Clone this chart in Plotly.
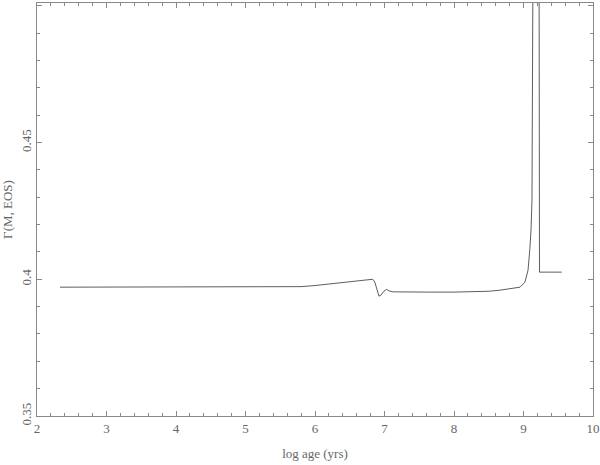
import plotly.graph_objects as go

log_age = [2.33, 3.0, 4.0, 5.0, 5.6, 5.8, 6.0, 6.2, 6.36, 6.5, 6.65, 6.79, 6.83, 6.86,
           6.89, 6.92, 6.95, 6.99, 7.03, 7.07, 7.12, 7.3, 7.6, 8.0, 8.3, 8.5, 8.66, 8.8,
           8.95, 9.02, 9.065, 9.09, 9.108, 9.122, 9.137, 9.145, 9.15,
           9.22, 9.222, 9.225, 9.228, 9.23, 9.4, 9.55]
gamma = [0.3971, 0.3971, 0.3971, 0.3971, 0.3971, 0.3973, 0.3977, 0.3982, 0.3988, 0.3992,
         0.3996, 0.3999, 0.4000, 0.3990, 0.3967, 0.3938, 0.3942, 0.3956, 0.3963, 0.3957,
         0.3954, 0.3953, 0.3953, 0.3953, 0.3954, 0.3956, 0.3960, 0.3964,
         0.3971, 0.3989, 0.4033, 0.4106, 0.4179, 0.4288, 0.4650, 0.5050, 0.6000,
         0.6000, 0.4210, 0.6000, 0.6000, 0.4026, 0.4026, 0.4026]

font = dict(family="Liberation Serif, DejaVu Serif, serif", size=13, color="#666666")

fig = go.Figure()
fig.add_trace(go.Scatter(x=log_age, y=gamma, mode="lines",
                         line=dict(color="#333333", width=0.8), showlegend=False))

axis_common = dict(showgrid=False, zeroline=False, showline=True, linecolor="#888888",
                   linewidth=1, mirror="allticks", ticks="inside", ticklen=5,
                   tickcolor="#888888", tickfont=font, automargin=False)

fig.update_xaxes(range=[2, 10], dtick=1, tick0=2, ticklabelstandoff=0,
                 minor=dict(dtick=0.2, ticks="inside", ticklen=3, tickcolor="#888888"),
                 title=dict(text="log age (yrs)", font=font, standoff=14),
                 **axis_common)
fig.update_yaxes(range=[0.35, 0.501], dtick=0.05, tick0=0.35, tickangle=-90,
                 tickformat="~g",
                 minor=dict(dtick=0.01, ticks="inside", ticklen=3, tickcolor="#888888"),
                 title=dict(text="Γ(M, EOS)", font=font, standoff=8),
                 **axis_common)

fig.update_layout(width=600, height=465, margin=dict(l=37, r=7, t=3, b=49),
                  plot_bgcolor="white", paper_bgcolor="white")

fig.write_html("out.html", config={"displayModeBar": False},
               post_script="document.body.style.margin='0';")
